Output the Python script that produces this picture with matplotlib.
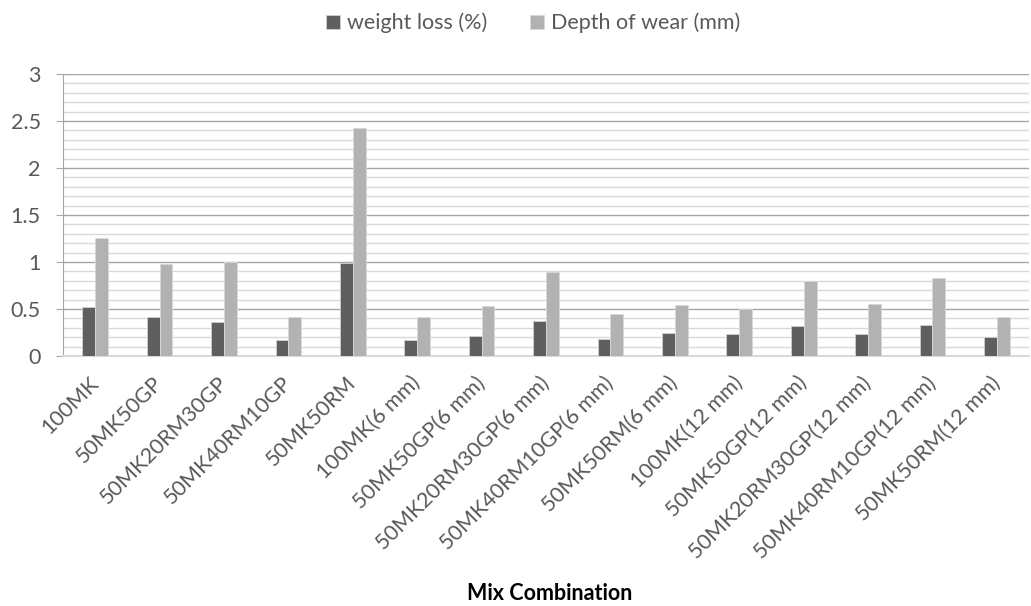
import matplotlib
matplotlib.use("Agg")
import matplotlib.pyplot as plt
import matplotlib.transforms as mtrans
import numpy as np
from matplotlib.ticker import MultipleLocator

categories = ["100MK", "50MK50GP", "50MK20RM30GP", "50MK40RM10GP", "50MK50RM",
              "100MK(6 mm)", "50MK50GP(6 mm)", "50MK20RM30GP(6 mm)", "50MK40RM10GP(6 mm)",
              "50MK50RM(6 mm)", "100MK(12 mm)", "50MK50GP(12 mm)", "50MK20RM30GP(12 mm)",
              "50MK40RM10GP(12 mm)", "50MK50RM(12 mm)"]
weight_loss = [0.52, 0.42, 0.36, 0.17, 0.99, 0.17, 0.21, 0.37, 0.18, 0.24, 0.23, 0.32, 0.23, 0.33, 0.20]
depth_wear = [1.26, 0.98, 1.00, 0.41, 2.43, 0.41, 0.53, 0.89, 0.45, 0.54, 0.50, 0.80, 0.55, 0.83, 0.42]

plt.rcParams['font.family'] = ['Lato', 'DejaVu Sans']
txt = '#595959'
fs = 15.5

fig = plt.figure(figsize=(10.31, 6.06), dpi=100)
ax = fig.add_axes([0.0611, 0.4125, 0.937, 0.4655])

x = np.arange(len(categories))
w = 0.2
ax.bar(x - w/2, weight_loss, w, color='#5f5f5f', edgecolor='#d0d0d0', linewidth=0.6,
       label='weight loss (%)', zorder=3)
ax.bar(x + w/2, depth_wear, w, color='#b2b2b2', edgecolor='#d9d9d9', linewidth=0.6,
       label='Depth of wear (mm)', zorder=3)

ax.set_xlim(-0.5, len(categories) - 0.5)
ax.set_ylim(0, 3)
ax.yaxis.set_minor_locator(MultipleLocator(0.1))
ax.set_yticks([0, 0.5, 1, 1.5, 2, 2.5, 3])
ax.set_yticklabels(['0', '0.5', '1', '1.5', '2', '2.5', '3'])
ax.grid(which='major', axis='y', color='#a6a6a6', linewidth=1.0, zorder=0)
ax.grid(which='minor', axis='y', color='#d9d9d9', linewidth=1.0, zorder=0)
ax.tick_params(axis='y', which='major', length=5, color='#a6a6a6', labelsize=fs, labelcolor=txt, pad=11)
ax.tick_params(axis='y', which='minor', length=0)

ax.set_xticks(x)
ax.set_xticklabels(categories, rotation=45, ha='right', rotation_mode='anchor', fontsize=fs, color=txt)
ax.tick_params(axis='x', length=0, pad=12)
offset = mtrans.ScaledTranslation(-7 / 100, 0, fig.dpi_scale_trans)
for lbl in ax.get_xticklabels():
    lbl.set_transform(lbl.get_transform() + offset)

for s in ['top', 'right']:
    ax.spines[s].set_visible(False)
ax.spines['left'].set_color('#a6a6a6')
ax.spines['bottom'].set_color('#d9d9d9')
ax.spines['bottom'].set_linewidth(1.5)

fig.text(0.533, 0.021, 'Mix Combination', fontsize=fs, fontweight='bold', color='black',
         ha='center', va='center')

leg = fig.legend(loc='center', bbox_to_anchor=(0.517, 0.962), ncol=2, frameon=False,
                 fontsize=fs, handlelength=0.65, handleheight=0.65, handletextpad=0.3,
                 columnspacing=2.0)
for t in leg.get_texts():
    t.set_color(txt)

fig.savefig('out.png', dpi=100)
